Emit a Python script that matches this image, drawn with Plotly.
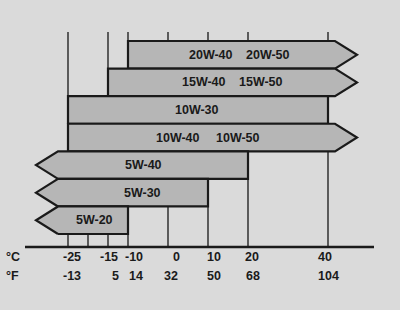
import plotly.graph_objects as go

# ---- data ----
grade_a = ["20W-40", "15W-40", "10W-30", "10W-40", "5W-40", "5W-30", "5W-20"]
grade_b = ["20W-50", "15W-50", "", "10W-50", "", "", ""]
min_c = [-10, -15, -25, -25, None, None, None]   # None = open (arrow to the left)
max_c = [None, None, 40, None, 20, 10, -10]      # None = open (arrow to the right)
ticks_c = [-25, -15, -10, 0, 10, 20, 40]
ticks_f = [-13, 5, 14, 32, 50, 68, 104]
grid_c = [-25, -15, -10, 0, 10, 20, 40]
short_tick_c = [-20]

# ---- style / layout ----
BG = "#dadada"
BAR = "#b6b6b6"
INK = "#1a1a1a"
R_BODY, R_TIP = 41.75, 47.25
L_BODY, L_TIP = -27.5, -33.0
H = 0.5
# label centres (°C units)
pos_a = [10.75, 8.9, 7.25, 2.6, -6.1, -6.5, -18.4]
pos_b = [25.0, 23.25, None, 17.4, None, None, None]
nudge_c = [1.1, 0.25, 1.4, 2.2, 1.5, 1.0, -0.75]
nudge_f = [1.1, 1.75, 2.1, 0.75, 1.5, 1.25, 0.0]
ROW_C, ROW_F = 7.33, 8.02
AX_Y = 6.97
GRID_TOP = -0.83

fig = go.Figure()

for i in range(len(grade_a)):
    y0, y1 = i - H, i + H
    xs, ys = [], []
    # left edge
    if min_c[i] is None:
        xs += [L_BODY, L_TIP, L_BODY]
        ys += [y1, i, y0]
    else:
        xs += [min_c[i], min_c[i]]
        ys += [y1, y0]
    # right edge
    if max_c[i] is None:
        xs += [R_BODY, R_TIP, R_BODY]
        ys += [y0, i, y1]
    else:
        xs += [max_c[i], max_c[i]]
        ys += [y0, y1]
    xs.append(xs[0]); ys.append(ys[0])
    fig.add_trace(go.Scatter(x=xs, y=ys, mode="lines", fill="toself",
                             fillcolor=BAR, line=dict(color=INK, width=2.2),
                             hoverinfo="skip", showlegend=False))
    fig.add_annotation(x=pos_a[i], y=i, text=grade_a[i], showarrow=False,
                       font=dict(size=12.5, color=INK, family="Liberation Sans, Arial", weight="bold"))
    if grade_b[i]:
        fig.add_annotation(x=pos_b[i], y=i, text=grade_b[i], showarrow=False,
                           font=dict(size=12.5, color=INK, family="Liberation Sans, Arial", weight="bold"))

shapes = []
for g in grid_c:
    shapes.append(dict(type="line", x0=g, x1=g, y0=GRID_TOP, y1=AX_Y, layer="below",
                       line=dict(color="#3a3a3a", width=1.6)))
for g in short_tick_c:
    shapes.append(dict(type="line", x0=g, x1=g, y0=len(grade_a) - 1 + H, y1=AX_Y, layer="below",
                       line=dict(color="#3a3a3a", width=1.6)))
shapes.append(dict(type="line", x0=-35.75, x1=51.5, y0=AX_Y, y1=AX_Y,
                   line=dict(color=INK, width=2.6)))

tick_font = dict(size=12.5, color=INK, family="Liberation Sans, Arial", weight="bold")
for t, n in zip(ticks_c, nudge_c):
    fig.add_annotation(x=t + n, y=ROW_C, text=str(t), showarrow=False, font=tick_font)
for t, f, n in zip(ticks_c, ticks_f, nudge_f):
    fig.add_annotation(x=t + n, y=ROW_F, text=str(f), showarrow=False, font=tick_font)
fig.add_annotation(x=-38.8, y=ROW_C, text="°C", showarrow=False, font=tick_font)
fig.add_annotation(x=-39.0, y=ROW_F, text="°F", showarrow=False, font=tick_font)

fig.update_layout(
    width=400, height=310, margin=dict(l=0, r=0, t=0, b=0),
    paper_bgcolor=BG, plot_bgcolor=BG, shapes=shapes,
    xaxis=dict(range=[-42, 58], visible=False, fixedrange=True),
    yaxis=dict(range=[9.256, -1.988], visible=False, fixedrange=True),
)
fig.write_html("out.html")
